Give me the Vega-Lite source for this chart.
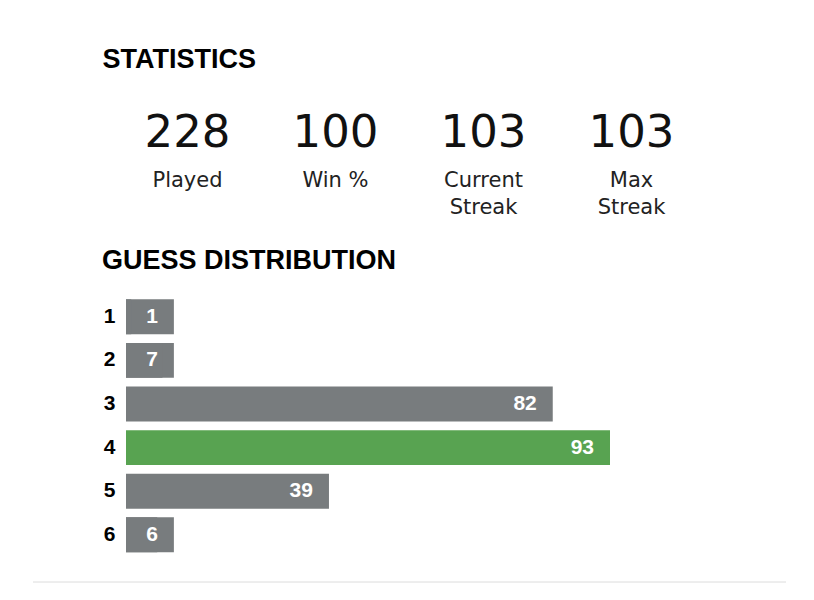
{
  "$schema": "https://vega.github.io/schema/vega-lite/v6.json",
  "background": "#ffffff",
  "padding": {"left": 32, "top": 46, "right": 0, "bottom": 0},
  "bounds": "flush",
  "center": true,
  "spacing": 25,
  "datasets": {
    "stats": [
      {"stat": "Played", "value": 228, "label": "Played"},
      {"stat": "Win %", "value": 100, "label": "Win %"},
      {"stat": "Current Streak", "value": 103, "label": "Current\nStreak"},
      {"stat": "Max Streak", "value": 103, "label": "Max\nStreak"}
    ],
    "guesses": [
      {"guess": 1, "count": 1, "game": "earlier"},
      {"guess": 2, "count": 7, "game": "earlier"},
      {"guess": 3, "count": 82, "game": "earlier"},
      {"guess": 4, "count": 93, "game": "latest"},
      {"guess": 5, "count": 39, "game": "earlier"},
      {"guess": 6, "count": 6, "game": "earlier"}
    ]
  },
  "vconcat": [
    {
      "width": 592,
      "height": 172,
      "data": {"name": "stats"},
      "title": {"text": "STATISTICS", "anchor": "start", "frame": "group", "dx": -11, "offset": 3, "baseline": "alphabetic", "font": "Liberation Sans", "fontSize": 27, "fontWeight": "bold", "color": "#000000"},
      "encoding": {
        "x": {"field": "stat", "type": "nominal", "sort": null, "axis": null, "scale": {"type": "point", "padding": 0.5}}
      },
      "layer": [
        {
          "mark": {"type": "text", "font": "DejaVu Sans", "fontSize": 45, "baseline": "alphabetic", "align": "center", "dy": -36.6, "color": "#111111"},
          "encoding": {"text": {"field": "value", "type": "quantitative"}}
        },
        {
          "mark": {"type": "text", "font": "DejaVu Sans", "fontSize": 21, "lineBreak": "\n", "lineHeight": 27, "baseline": "alphabetic", "align": "center", "dy": 3.4, "color": "#222222"},
          "encoding": {"text": {"field": "label", "type": "nominal"}}
        }
      ]
    },
    {
      "width": 567,
      "height": 261.6,
      "data": {"name": "guesses"},
      "title": {"text": "GUESS DISTRIBUTION", "anchor": "start", "frame": "group", "dx": -24, "offset": 0, "dy": 1, "baseline": "alphabetic", "font": "Liberation Sans", "fontSize": 27, "fontWeight": "bold", "color": "#000000"},
      "encoding": {
        "y": {"field": "guess", "type": "ordinal", "scale": {"type": "band", "paddingInner": 0.2, "paddingOuter": 0.1},
              "axis": {"title": null, "domain": false, "ticks": false, "tickSize": 0, "grid": false, "labelPadding": 11, "labelFont": "Liberation Sans", "labelFontSize": 21, "labelFontWeight": "bold", "labelColor": "#000000"}},
        "color": {"field": "game", "type": "nominal", "scale": {"domain": ["earlier", "latest"], "range": ["#787c7e", "#58a351"]}, "legend": null}
      },
      "layer": [
        {
          "transform": [{"filter": "datum.count < 9.2"}],
          "mark": {"type": "bar", "cornerRadius": 0},
          "encoding": {
            "x": {"datum": 0, "type": "quantitative", "scale": {"nice": false, "zero": true, "range": [0, 484]}, "axis": null},
            "x2": {"datum": 9.2}
          }
        },
        {
          "mark": {"type": "bar"},
          "encoding": {
            "x": {"field": "count", "type": "quantitative", "axis": null}
          }
        },
        {
          "transform": [{"filter": "datum.count >= 10"}],
          "mark": {"type": "text", "align": "right", "baseline": "middle", "dx": -16, "font": "Liberation Sans", "fontSize": 21, "fontWeight": "bold", "color": "#ffffff"},
          "encoding": {
            "x": {"field": "count", "type": "quantitative"},
            "text": {"field": "count", "type": "quantitative"},
            "color": {"value": "#ffffff"}
          }
        },
        {
          "transform": [{"filter": "datum.count < 10"}],
          "mark": {"type": "text", "align": "right", "baseline": "middle", "dx": -16, "font": "Liberation Sans", "fontSize": 21, "fontWeight": "bold", "color": "#ffffff"},
          "encoding": {
            "x": {"datum": 9.2, "type": "quantitative"},
            "text": {"field": "count", "type": "quantitative"},
            "color": {"value": "#ffffff"}
          }
        }
      ]
    },
    {
      "width": 753,
      "height": 1,
      "data": {"name": "guesses"},
      "transform": [{"aggregate": [{"op": "count", "as": "rows"}]}],
      "mark": {"type": "rule", "color": "#dcdcdc", "strokeWidth": 1},
      "encoding": {
        "y": {"datum": 1, "type": "quantitative", "scale": {"domain": [0, 1]}, "axis": null}
      }
    }
  ],
  "config": {
    "view": {"stroke": null},
    "font": "Liberation Sans"
  }
}
